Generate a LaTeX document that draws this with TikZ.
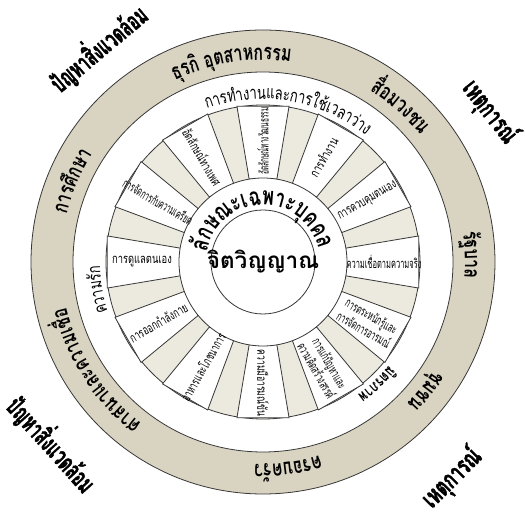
\documentclass[tikz,border=0pt]{standalone}
\usepackage{fontspec}
\usepackage{graphicx}
\newfontfamily\thai[Script=Thai]{Loma}
\newfontfamily\thaicond[Script=Thai,FakeStretch=0.72]{Loma}
\newfontfamily\thainarrow[Script=Thai,FakeStretch=0.6,FakeBold=1.5]{Loma}
\definecolor{bandtan}{RGB}{217,211,193}
\definecolor{wedgetan}{RGB}{236,234,222}
\definecolor{rimline}{RGB}{55,55,55}

\newcommand\bandtxt[1]{{\thaicond\bfseries\fontsize{22}{22}\selectfont #1}}
\newcommand\ringtxt[1]{{\thaicond\fontsize{18}{18}\selectfont #1}}
\newcommand\ringbold[1]{{\thaicond\bfseries\fontsize{16}{16}\selectfont #1}}
\newcommand\selftxt[1]{{\thaicond\bfseries\fontsize{25}{25}\selectfont #1}}

\newsavebox\chunkbox
\newdimen\arctotal
% letter clusters round a circle, tops outward, read clockwise
\newcommand\measurechunk[1]{%
  \pgfinterruptpicture\global\setbox\chunkbox\hbox{#1}\endpgfinterruptpicture}
\newcommand\arcword[4]{%
  \global\arctotal=0pt
  \foreach \cl in {#4}{\measurechunk{#3{\cl}}\global\advance\arctotal by \wd\chunkbox}%
  \pgfmathsetmacro\arcstart{#2+\the\arctotal/(2*#1)*180/pi}%
  \xdef\arcpos{\arcstart}%
  \foreach \cl in {#4}{%
    \measurechunk{#3{\cl}}%
    \pgfmathsetmacro\arcmid{\arcpos-\the\wd\chunkbox/(2*#1)*180/pi}%
    \node[anchor=base, inner sep=0pt, rotate=\arcmid-90] at (\arcmid:#1) {#3{\cl}};
    \pgfmathsetmacro\arcnext{\arcpos-\the\wd\chunkbox/#1*180/pi}%
    \xdef\arcpos{\arcnext}%
  }%
}

\tikzset{
  rim/.style={draw=rimline, line width=0.8pt},
  boxtext/.style={font=\thaicond\fontsize{13}{13}\selectfont, align=center, inner sep=1pt},
  outer/.style={font=\thainarrow\bfseries\fontsize{26}{26}\selectfont, inner sep=0pt},
}

\begin{document}
\begin{tikzpicture}[x=1pt,y=1pt]
  \useasboundingbox (-263,-256) rectangle (262,262);

  % life forces band
  \draw[rim, fill=bandtan] (0,0) circle (232);
  \draw[rim, fill=white] (0,0) circle (190);

  % self direction ring
  \draw[rim, fill=wedgetan] (0,0) circle (157);
  \foreach \a in {90,60,...,-240}
    \draw[rim, fill=white] (\a-9.5:84) -- (\a-9.5:158) -- (\a+9.5:158) -- (\a+9.5:84) -- cycle;
  \draw[rim, fill=white] (0,0) circle (84);
  \draw[rim] (0,0) circle (52);

  \node (core) at (0,0) {\thai\bfseries\fontsize{22.5}{23}\selectfont จิตวิญญาณ};
  \arcword{57}{91.5}{\selftxt}{ลั,ก,ษ,ณ,ะ,เ,ฉ,พ,า,ะ,บุ,ค,ค,ล}

  % tasks in the ring boxes
  \node[boxtext, rotate=90]  (culture) at (90:121)  {\scalebox{0.7}[1]{อัตลักษณ์ทางวัฒนธรรม}};
  \node[boxtext, rotate=60]  (work)    at (60:121)  {การทำงาน};
  \node[boxtext, rotate=30]  (control) at (30:121)  {\scalebox{0.92}[1]{การควบคุมตนเอง}};
  \node[boxtext, rotate=0]   (belief)  at (0:121)   {\scalebox{0.8}[1]{ความเชื่อตามความจริง}};
  \node[boxtext, rotate=-30] (emotion) at (-30:121) {\scalebox{0.8}[1]{การตระหนักรู้และ}\\\scalebox{0.8}[1]{การจัดการอารมณ์}};
  \node[boxtext, rotate=-60] (problem) at (-60:121) {\scalebox{0.8}[1]{การแก้ปัญหาและ}\\\scalebox{0.8}[1]{ความคิดสร้างสรรค์}};
  \node[boxtext, rotate=-90] (humor)   at (-90:121) {\scalebox{0.92}[1]{ความมีอารมณ์ขัน}};
  \node[boxtext, rotate=60]  (food)    at (-120:121) {\scalebox{0.85}[1]{อาหารและโภชนาการ}};
  \node[boxtext, rotate=30]  (sport)   at (-150:121) {\scalebox{0.92}[1]{การออกกำลังกาย}};
  \node[boxtext, rotate=0]   (care)    at (180:121) {การดูแลตนเอง};
  \node[boxtext, rotate=-30] (stress)  at (150:121) {\scalebox{0.75}[1]{การจัดการกับความเครียด}};
  \node[boxtext, rotate=-60] (gender)  at (120:121) {\scalebox{0.92}[1]{อัตลักษณ์ทางเพศ}};

  % life tasks
  \arcword{163}{80.5}{\ringtxt}{ก,า,ร,ทำ,ง,า,น,แ,ล,ะ,ก,า,ร,ใ,ช้,เ,ว,ล,า,ว่,า,ง}
  \arcword{163}{189.5}{\ringtxt}{ค,ว,า,ม,รั,ก}
  \arcword{163}{-47}{\ringbold}{มิ,ต,ร,ภ,า,พ}

  % life forces
  \arcword{202}{99}{\bandtxt}{ธุ,ร,กิ,~,อุ,ต,ส,า,ห,ก,ร,ร,ม}
  \arcword{202}{48.5}{\bandtxt}{สื่,อ,ม,ว,ง,ช,น}
  \arcword{202}{2}{\bandtxt}{รั,ฐ,บ,า,ล}
  \arcword{202}{-38.5}{\bandtxt}{ชุ,ม,ช,น}
  \arcword{202}{-83}{\bandtxt}{ค,ร,อ,บ,ค,รั,ว}
  \arcword{202}{213}{\bandtxt}{ศ,า,ส,น,า,แ,ล,ะ,ค,ว,า,ม,เ,ชื่,อ}
  \arcword{202}{157}{\bandtxt}{ก,า,ร,ศึ,ก,ษ,า}

  % global events
  \node[outer, rotate=40]  (envtop)   at (-165,214) {ปัญหาสิ่งแวดล้อม};
  \node[outer, rotate=-52] (eventtop) at (227,150)  {\scalebox{1.08}[1]{เหตุการณ์}};
  \node[outer, rotate=45]  (eventbot) at (189,-216) {\scalebox{1.08}[1]{เหตุการณ์}};
  \node[outer, rotate=-48] (envbot)   at (-211,-182) {ปัญหาสิ่งแวดล้อม};
\end{tikzpicture}
\end{document}
